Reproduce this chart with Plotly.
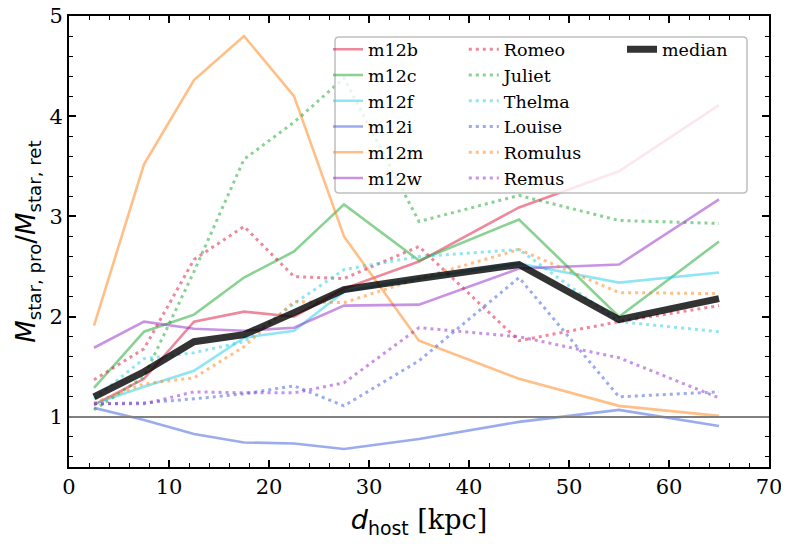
import plotly.graph_objects as go

# host distance bins (kpc)
d_host = [2.5, 7.5, 12.5, 17.5, 22.5, 27.5, 35, 45, 55, 65]

# isolated hosts (solid)
m12b = [1.12, 1.38, 1.95, 2.05, 2.00, 2.28, 2.55, 3.09, 3.45, 4.11]
m12c = [1.29, 1.85, 2.02, 2.39, 2.65, 3.12, 2.56, 2.97, 2.00, 2.75]
m12f = [1.13, 1.30, 1.46, 1.79, 1.86, 2.25, 2.38, 2.53, 2.34, 2.44]
m12i = [1.09, 0.97, 0.83, 0.745, 0.735, 0.68, 0.78, 0.95, 1.07, 0.91]
m12m = [1.91, 3.52, 4.36, 4.80, 4.20, 2.80, 1.76, 1.38, 1.11, 1.01]
m12w = [1.69, 1.95, 1.88, 1.86, 1.89, 2.11, 2.12, 2.48, 2.52, 3.17]

# paired hosts (dotted)
romeo = [1.37, 1.68, 2.57, 2.90, 2.40, 2.38, 2.70, 1.76, 1.95, 2.11]
juliet = [1.07, 1.40, 2.45, 3.57, 3.94, 4.38, 2.95, 3.21, 2.96, 2.93]
thelma = [1.18, 1.58, 1.64, 1.75, 2.13, 2.47, 2.60, 2.67, 1.95, 1.85]
louise = [1.13, 1.14, 1.18, 1.23, 1.31, 1.11, 1.56, 2.39, 1.20, 1.25]
romulus = [1.14, 1.33, 1.39, 1.70, 2.15, 2.14, 2.38, 2.67, 2.24, 2.23]
remus = [1.13, 1.13, 1.25, 1.24, 1.24, 1.34, 1.89, 1.80, 1.59, 1.19]

median = [1.20, 1.45, 1.75, 1.82, 2.04, 2.27, 2.38, 2.52, 1.97, 2.18]

unity = 1.0

colors = [
    "rgba(222,18,58,0.5)",    # crimson
    "rgba(20,165,40,0.5)",    # green
    "rgba(30,205,235,0.5)",   # cyan
    "rgba(55,90,222,0.5)",    # royalblue
    "rgba(255,127,14,0.5)",   # orange
    "rgba(148,40,200,0.5)",   # darkorchid
]

solid = [("m12b", m12b), ("m12c", m12c), ("m12f", m12f),
         ("m12i", m12i), ("m12m", m12m), ("m12w", m12w)]
dotted = [("Romeo", romeo), ("Juliet", juliet), ("Thelma", thelma),
          ("Louise", louise), ("Romulus", romulus), ("Remus", remus)]

SERIF = "DejaVu Serif"
SANS = "DejaVu Sans"

fig = go.Figure()

for (name, y), c in zip(solid, colors):
    fig.add_trace(go.Scatter(x=d_host, y=y, mode="lines", name=name,
                             line=dict(color=c, width=2.6), legend="legend"))

for (name, y), c in zip(dotted, colors):
    fig.add_trace(go.Scatter(x=d_host, y=y, mode="lines", name=name,
                             line=dict(color=c, width=3, dash="3px,4px"),
                             legend="legend2"))

fig.add_trace(go.Scatter(x=d_host, y=median, mode="lines", name="median",
                         line=dict(color="rgba(0,0,0,0.8)", width=7),
                         legend="legend3"))

# reference ratio = 1
fig.add_shape(type="line", xref="paper", x0=0, x1=1, yref="y", y0=unity, y1=unity,
              line=dict(color="#808080", width=2), layer="above")

# legend frame (rounded, semi-transparent like matplotlib)
x0, x1, y0, y1 = 0.380, 0.9686, 0.6075, 0.9532
rx, ry = 4 / 700, 4 / 451
path = (f"M{x0+rx},{y0} L{x1-rx},{y0} Q{x1},{y0} {x1},{y0+ry} "
        f"L{x1},{y1-ry} Q{x1},{y1} {x1-rx},{y1} "
        f"L{x0+rx},{y1} Q{x0},{y1} {x0},{y1-ry} "
        f"L{x0},{y0+ry} Q{x0},{y0} {x0+rx},{y0} Z")
fig.add_shape(type="path", xref="paper", yref="paper", path=path,
              fillcolor="rgba(255,255,255,0.8)",
              line=dict(color="rgba(190,190,190,1)", width=1.5), layer="above")

leg_common = dict(bgcolor="rgba(0,0,0,0)", borderwidth=0,
                  font=dict(family=SERIF, size=17.5, color="black"),
                  xanchor="left", yanchor="top", y=0.966,
                  itemwidth=30, tracegroupgap=0)

axis_common = dict(showline=True, linewidth=2, linecolor="black", mirror="ticks",
                   ticks="inside", ticklen=7, tickwidth=1.5, tickcolor="black",
                   showgrid=False, zeroline=False, automargin=False,
                   ticklabeloverflow="allow",
                   tickfont=dict(family=SERIF, size=21, color="black"))

# the page body adds an 8 px offset, so margins are trimmed by 8 on top/left
fig.update_layout(
    width=789,
    height=548,
    margin=dict(l=61, r=28, t=8, b=89),
    plot_bgcolor="white",
    paper_bgcolor="white",
    showlegend=True,
    legend=dict(x=0.370, **leg_common),
    legend2=dict(x=0.564, **leg_common),
    legend3=dict(x=0.790, **leg_common),
    xaxis=dict(
        range=[0, 70], dtick=10, tick0=0,
        minor=dict(dtick=2, ticks="inside", ticklen=4, tickwidth=1, tickcolor="black"),
        title=dict(
            text=("<i>d</i><sub>host</sub> "
                  f"<span style='font-family:{SERIF}'>[kpc]</span>"),
            font=dict(family=SANS, size=27, color="black"), standoff=12),
        **axis_common,
    ),
    yaxis=dict(
        range=[0.5, 5], dtick=1, tick0=0,
        minor=dict(dtick=0.2, ticks="inside", ticklen=4, tickwidth=1, tickcolor="black"),
        title=dict(
            text="<i>M</i><sub>star, pro</sub>/<i>M</i><sub>star, ret</sub>",
            font=dict(family=SANS, size=26, color="black"), standoff=6),
        **axis_common,
    ),
)

fig.write_html("out.html")
